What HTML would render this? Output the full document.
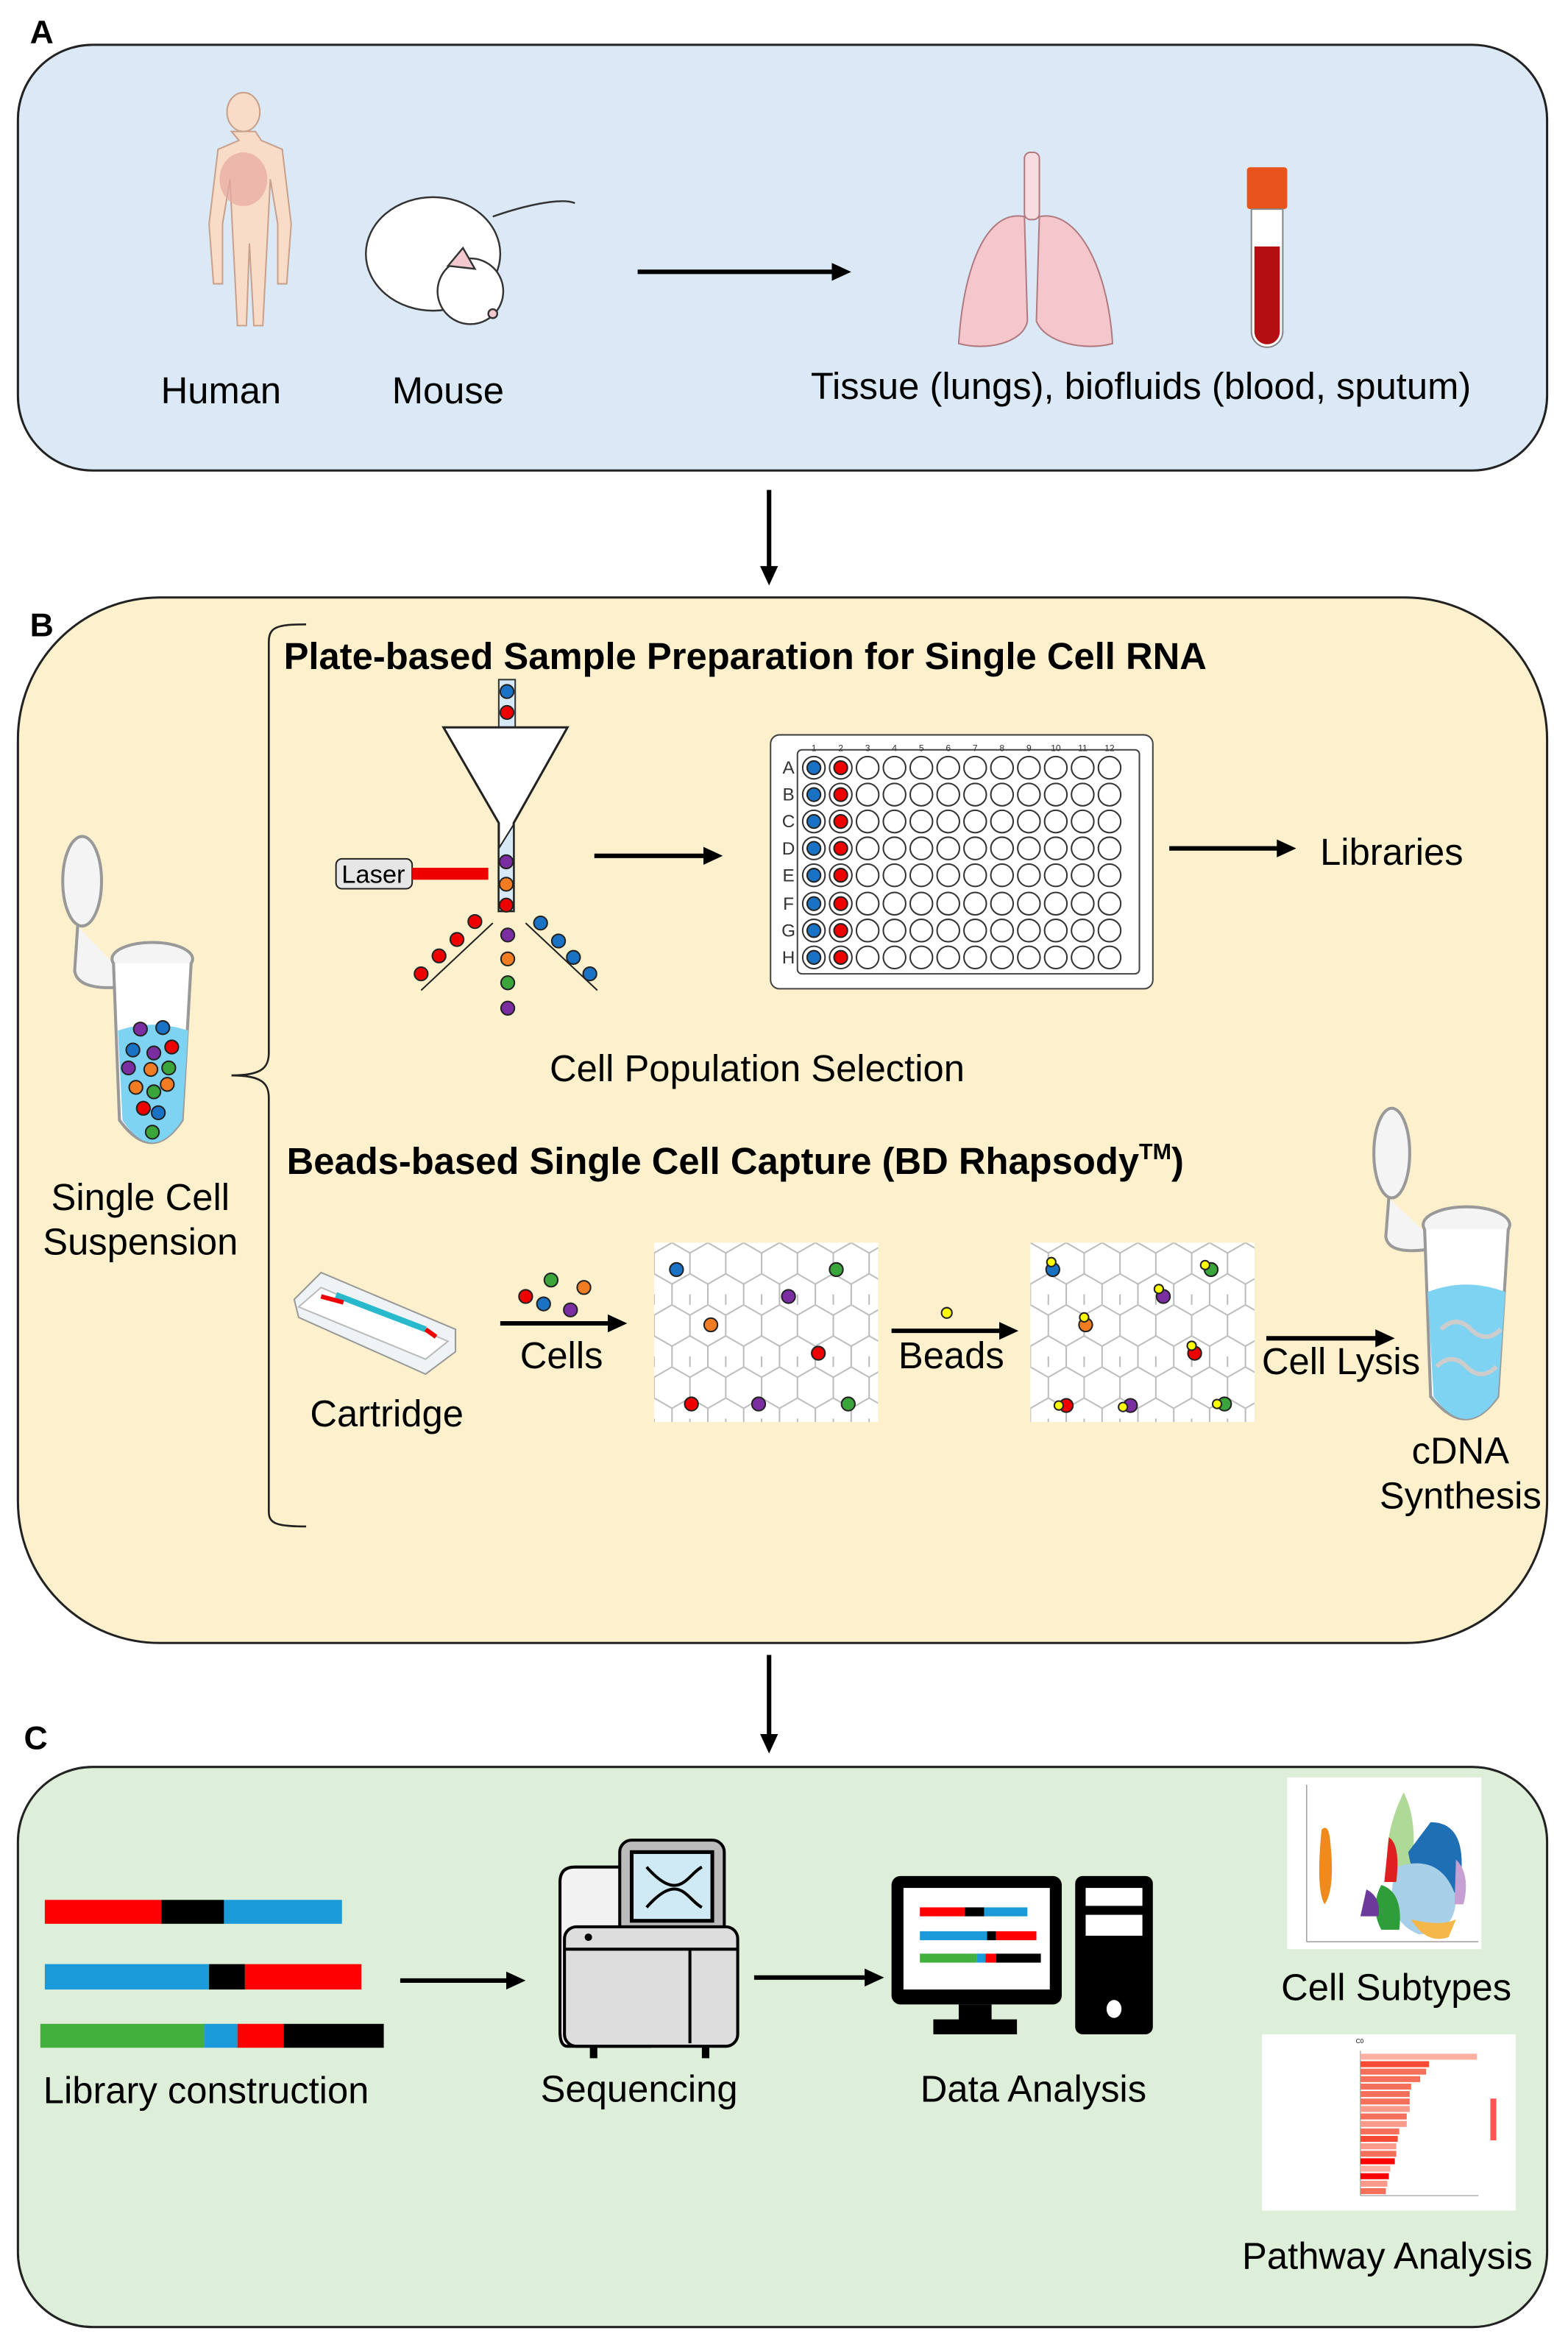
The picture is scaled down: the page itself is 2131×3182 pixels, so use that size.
<!DOCTYPE html>
<html><head><meta charset="utf-8"><style>
html,body{margin:0;padding:0;background:#fff}
svg{display:block}
text{font-family:"Liberation Sans",Arial,sans-serif}
</style></head><body>
<svg width="2131" height="3182" viewBox="0 0 1050 1568" preserveAspectRatio="none" xmlns="http://www.w3.org/2000/svg">
<defs>
<pattern id="hex" width="24" height="41.6" patternUnits="userSpaceOnUse" x="438" y="832">
<path d="M12,0 L24,6.9 L24,20.8 L12,27.7 L0,20.8 L0,6.9 Z M12,27.7 L12,41.6 M0,20.8 L0,6.9" fill="none" stroke="#bbb" stroke-width="1"/>
<path d="M0,34.6 L0,48 M24,34.6 L24,48" stroke="#bbb"/>
</pattern>
<marker id="ah" markerWidth="13" markerHeight="12" refX="9" refY="6" orient="auto" markerUnits="userSpaceOnUse"><path d="M0,0 L13,6 L0,12 Z" fill="#000"/></marker>
</defs>
<rect width="1050" height="1568" fill="#fff"/>
<!-- Panel A -->
<text x="20" y="29" font-size="22" font-weight="bold">A</text>
<rect x="12" y="30" width="1024" height="285" rx="50" fill="#dbe9f6" stroke="#222" stroke-width="1.5"/>
<g fill="#f9dcc8" stroke="#c9a08a" stroke-width="1">
<ellipse cx="163" cy="75" rx="11" ry="13"/>
<path d="M155,88 h16 l4,6 l14,6 l6,50 l-3,40 l-6,0 l0,-40 l-5,-30 l-2,40 l-3,58 l-6,0 l-3,-55 l-2,55 l-6,0 l-3,-58 l-2,-40 l-5,30 l0,40 l-6,0 l-3,-40 l6,-50 l14,-6 z"/>
</g>
<ellipse cx="163" cy="120" rx="16" ry="18" fill="#e8a8a0" opacity="0.7"/>
<g stroke="#333" stroke-width="1.2">
<path d="M330,145 C350,138 375,132 385,136" fill="none"/>
<ellipse cx="290" cy="170" rx="45" ry="38" fill="#fff"/>
<ellipse cx="315" cy="195" rx="22" ry="22" fill="#fff"/>
<path d="M300,178 l10,-12 l8,14 z" fill="#f3c9cf"/>
<circle cx="330" cy="210" r="3" fill="#f3c9cf"/>
</g>
<line x1="427" y1="182" x2="566" y2="182" stroke="#000" stroke-width="3" marker-end="url(#ah)"/>
<g fill="#f4c7cc" stroke="#b07a80" stroke-width="1">
<rect x="686" y="102" width="10" height="45" rx="4" fill="#f7dde0"/>
<path d="M686,145 C660,140 645,180 642,230 C660,235 685,230 688,215 Z"/>
<path d="M696,145 C722,140 742,180 745,230 C727,235 700,230 694,215 Z"/>
</g>
<rect x="835" y="112" width="27" height="28" rx="2" fill="#e8541c"/>
<path d="M838,140 h21 v82 a10.5,10.5 0 0 1 -21,0 z" fill="#fff" stroke="#888"/>
<path d="M840,165 h17 v57 a8.5,8.5 0 0 1 -17,0 z" fill="#b30f12"/>
<text x="148" y="270" font-size="25" text-anchor="middle">Human</text>
<text x="300" y="270" font-size="25" text-anchor="middle">Mouse</text>
<text x="764" y="267" font-size="25" text-anchor="middle">Tissue (lungs), biofluids (blood, sputum)</text>
<line x1="515" y1="328" x2="515" y2="388" stroke="#000" stroke-width="3" marker-end="url(#ah)"/>
<!-- Panel B -->
<text x="20" y="426" font-size="22" font-weight="bold">B</text>
<rect x="12" y="400" width="1024" height="700" rx="95" fill="#fdf0cc" stroke="#222" stroke-width="1.5"/>
<path d="M205,418 C185,418 180,420 180,430 L180,705 C180,715 175,720 155,720 C175,720 180,725 180,735 L180,1012 C180,1020 185,1022 205,1022" fill="none" stroke="#222" stroke-width="1.3"/>
<text x="190" y="448" font-size="25" font-weight="bold">Plate-based Sample Preparation for Single Cell RNA</text>
<rect x="334" y="455" width="11" height="32" fill="#d7e8f7" stroke="#333"/>
<circle cx="339.5" cy="463" r="4.5" fill="#1a72c4" stroke="#222"/><circle cx="339.5" cy="477" r="4.5" fill="#e00" stroke="#222"/>
<path d="M297,487 L380,487 L344,551 L344,610 L334,610 L334,551 Z" fill="#fff" stroke="#222" stroke-width="1.5"/>
<path d="M334,568 L344,552 L344,610 L334,610 Z" fill="#d7e8f7" stroke="#222"/>
<circle cx="339" cy="577" r="4.5" fill="#7b2ea1" stroke="#222"/><circle cx="339" cy="592" r="4.5" fill="#f27c22" stroke="#222"/><circle cx="339" cy="606" r="4.5" fill="#e00" stroke="#222"/>
<rect x="225" y="575" width="51" height="20" rx="4" fill="#e6e6e6" stroke="#222"/>
<text x="250" y="591" font-size="17" text-anchor="middle">Laser</text>
<rect x="276" y="581" width="51" height="8" fill="#e00"/>
<line x1="330" y1="618" x2="282" y2="663" stroke="#222"/><line x1="352" y1="618" x2="400" y2="663" stroke="#222"/>
<g stroke="#222"><circle cx="318" cy="617" r="4.5" fill="#e00"/><circle cx="306" cy="629" r="4.5" fill="#e00"/><circle cx="294" cy="640" r="4.5" fill="#e00"/><circle cx="282" cy="652" r="4.5" fill="#e00"/>
<circle cx="362" cy="618" r="4.5" fill="#1a72c4"/><circle cx="374" cy="630" r="4.5" fill="#1a72c4"/><circle cx="384" cy="641" r="4.5" fill="#1a72c4"/><circle cx="395" cy="652" r="4.5" fill="#1a72c4"/>
<circle cx="340" cy="626" r="4.5" fill="#7b2ea1"/><circle cx="340" cy="642" r="4.5" fill="#f27c22"/><circle cx="340" cy="658" r="4.5" fill="#3aa53a"/><circle cx="340" cy="675" r="4.5" fill="#7b2ea1"/></g>
<line x1="398" y1="573" x2="480" y2="573" stroke="#000" stroke-width="3" marker-end="url(#ah)"/>
<rect x="516" y="492" width="256" height="170" rx="6" fill="#fff" stroke="#444"/>
<rect x="534" y="502" width="229" height="150" rx="3" fill="#fff" stroke="#444"/>
<g text-anchor="middle" fill="#333">
<text x="545" y="503" font-size="6">1</text><text x="563" y="503" font-size="6">2</text><text x="581" y="503" font-size="6">3</text><text x="599" y="503" font-size="6">4</text><text x="617" y="503" font-size="6">5</text><text x="635" y="503" font-size="6">6</text><text x="653" y="503" font-size="6">7</text><text x="671" y="503" font-size="6">8</text><text x="689" y="503" font-size="6">9</text><text x="707" y="503" font-size="6">10</text><text x="725" y="503" font-size="6">11</text><text x="743" y="503" font-size="6">12</text>
<text x="528" y="518" font-size="12">A</text><text x="528" y="536" font-size="12">B</text><text x="528" y="554" font-size="12">C</text><text x="528" y="572" font-size="12">D</text><text x="528" y="590" font-size="12">E</text><text x="528" y="609" font-size="12">F</text><text x="528" y="627" font-size="12">G</text><text x="528" y="645" font-size="12">H</text>
</g>
<g id="wells" fill="#fff" stroke="#333" stroke-width="1">
<circle cx="545" cy="514" r="7.5"/><circle cx="545" cy="532" r="7.5"/><circle cx="545" cy="550" r="7.5"/><circle cx="545" cy="568" r="7.5"/><circle cx="545" cy="586" r="7.5"/><circle cx="545" cy="605" r="7.5"/><circle cx="545" cy="623" r="7.5"/><circle cx="545" cy="641" r="7.5"/>
</g>
<g fill="#fff" stroke="#333">
<use href="#wells" x="18"/><use href="#wells" x="36"/><use href="#wells" x="54"/><use href="#wells" x="72"/><use href="#wells" x="90"/><use href="#wells" x="108"/><use href="#wells" x="126"/><use href="#wells" x="144"/><use href="#wells" x="162"/><use href="#wells" x="180"/><use href="#wells" x="198"/>
</g>
<g stroke="#222"><g fill="#1a72c4"><circle cx="545" cy="514" r="4.5"/><circle cx="545" cy="532" r="4.5"/><circle cx="545" cy="550" r="4.5"/><circle cx="545" cy="568" r="4.5"/><circle cx="545" cy="586" r="4.5"/><circle cx="545" cy="605" r="4.5"/><circle cx="545" cy="623" r="4.5"/><circle cx="545" cy="641" r="4.5"/></g>
<g fill="#e00"><circle cx="563" cy="514" r="4.5"/><circle cx="563" cy="532" r="4.5"/><circle cx="563" cy="550" r="4.5"/><circle cx="563" cy="568" r="4.5"/><circle cx="563" cy="586" r="4.5"/><circle cx="563" cy="605" r="4.5"/><circle cx="563" cy="623" r="4.5"/><circle cx="563" cy="641" r="4.5"/></g></g>
<line x1="783" y1="568" x2="864" y2="568" stroke="#000" stroke-width="3" marker-end="url(#ah)"/>
<text x="884" y="579" font-size="25">Libraries</text>
<text x="507" y="724" font-size="25" text-anchor="middle">Cell Population Selection</text>
<text x="192" y="786" font-size="25" font-weight="bold">Beads-based Single Cell Capture (BD Rhapsody<tspan font-size="15" dy="-10">TM</tspan><tspan dy="10">)</tspan></text>
<g stroke="#999" stroke-width="2" fill="#f4f4f4">
<ellipse cx="55" cy="590" rx="13" ry="30"/>
<path d="M52,620 L50,650 Q52,665 90,660"/>
<ellipse cx="102" cy="642" rx="27" ry="11"/>
<path d="M76,645 L80,750 Q102,780 122,750 L128,645" fill="#fff"/>
</g>
<path d="M79,690 Q102,682 126,690 L122,750 Q102,780 82,750 Z" fill="#7fd3f2"/>
<g stroke="#222"><circle cx="94" cy="689" r="4.5" fill="#7b2ea1"/><circle cx="109" cy="688" r="4.5" fill="#1a72c4"/><circle cx="89" cy="703" r="4.5" fill="#1a72c4"/><circle cx="103" cy="705" r="4.5" fill="#7b2ea1"/><circle cx="115" cy="701" r="4.5" fill="#e00"/><circle cx="86" cy="715" r="4.5" fill="#7b2ea1"/><circle cx="101" cy="716" r="4.5" fill="#f27c22"/><circle cx="113" cy="715" r="4.5" fill="#3aa53a"/><circle cx="91" cy="728" r="4.5" fill="#f27c22"/><circle cx="103" cy="731" r="4.5" fill="#3aa53a"/><circle cx="112" cy="726" r="4.5" fill="#f27c22"/><circle cx="96" cy="742" r="4.5" fill="#e00"/><circle cx="106" cy="745" r="4.5" fill="#1a72c4"/><circle cx="102" cy="758" r="4.5" fill="#3aa53a"/></g>
<text x="94" y="810" font-size="25" text-anchor="middle">Single Cell</text>
<text x="94" y="840" font-size="25" text-anchor="middle">Suspension</text>
<path d="M197,870 L215,852 L305,890 L305,905 L285,920 L200,882 Z" fill="#eef3f6" stroke="#999"/>
<path d="M215,862 L300,898 L285,910 L200,875 Z" fill="#fff" stroke="#bbb"/>
<path d="M225,867 L285,890" stroke="#29b9cc" stroke-width="4"/><path d="M215,868 L230,872 M285,890 L292,895" stroke="#e00" stroke-width="3"/>
<text x="259" y="955" font-size="25" text-anchor="middle">Cartridge</text>
<g stroke="#222"><circle cx="352" cy="868" r="4.5" fill="#e00"/><circle cx="369" cy="857" r="4.5" fill="#3aa53a"/><circle cx="391" cy="862" r="4.5" fill="#f27c22"/><circle cx="364" cy="873" r="4.5" fill="#1a72c4"/><circle cx="382" cy="877" r="4.5" fill="#7b2ea1"/></g>
<line x1="335" y1="886" x2="416" y2="886" stroke="#000" stroke-width="3" marker-end="url(#ah)"/>
<text x="376" y="916" font-size="25" text-anchor="middle">Cells</text>
<rect x="438" y="832" width="150" height="120" fill="#fff"/>
<rect x="438" y="832" width="150" height="120" fill="url(#hex)"/>
<g stroke="#222"><circle cx="453" cy="850" r="4.5" fill="#1a72c4"/><circle cx="528" cy="868" r="4.5" fill="#7b2ea1"/><circle cx="560" cy="850" r="4.5" fill="#3aa53a"/><circle cx="476" cy="887" r="4.5" fill="#f27c22"/><circle cx="548" cy="906" r="4.5" fill="#e00"/><circle cx="463" cy="940" r="4.5" fill="#e00"/><circle cx="508" cy="940" r="4.5" fill="#7b2ea1"/><circle cx="568" cy="940" r="4.5" fill="#3aa53a"/></g>
<circle cx="634" cy="879" r="3.5" fill="#ff0" stroke="#222"/>
<line x1="597" y1="891" x2="678" y2="891" stroke="#000" stroke-width="3" marker-end="url(#ah)"/>
<text x="637" y="916" font-size="25" text-anchor="middle">Beads</text>
<rect x="690" y="832" width="150" height="120" fill="#fff"/>
<rect x="690" y="832" width="150" height="120" fill="url(#hex)"/>
<g stroke="#222"><circle cx="705" cy="850" r="4.5" fill="#1a72c4"/><circle cx="704" cy="845" r="3" fill="#ff0"/><circle cx="779" cy="868" r="4.5" fill="#7b2ea1"/><circle cx="776" cy="863" r="3" fill="#ff0"/><circle cx="811" cy="850" r="4.5" fill="#3aa53a"/><circle cx="807" cy="847" r="3" fill="#ff0"/><circle cx="727" cy="887" r="4.5" fill="#f27c22"/><circle cx="726" cy="882" r="3" fill="#ff0"/><circle cx="800" cy="906" r="4.5" fill="#e00"/><circle cx="798" cy="901" r="3" fill="#ff0"/><circle cx="714" cy="941" r="4.5" fill="#e00"/><circle cx="709" cy="941" r="3" fill="#ff0"/><circle cx="757" cy="941" r="4.5" fill="#7b2ea1"/><circle cx="752" cy="942" r="3" fill="#ff0"/><circle cx="820" cy="940" r="4.5" fill="#3aa53a"/><circle cx="815" cy="940" r="3" fill="#ff0"/></g>
<line x1="848" y1="896" x2="930" y2="896" stroke="#000" stroke-width="3" marker-end="url(#ah)"/>
<text x="898" y="920" font-size="25" text-anchor="middle">Cell Lysis</text>
<g stroke="#999" stroke-width="2" fill="#f4f4f4">
<ellipse cx="932" cy="772" rx="12" ry="30"/>
<path d="M930,802 L928,828 Q930,842 965,835"/>
<ellipse cx="982" cy="820" rx="29" ry="12"/>
<path d="M954,823 L958,935 Q982,965 1003,935 L1010,823" fill="#fff"/>
</g>
<path d="M956,865 Q982,855 1008,865 L1003,935 Q982,965 960,935 Z" fill="#7fd3f2"/>
<path d="M965,890 q10,-10 20,0 t20,0 M962,915 q10,-10 20,0 t20,0" stroke="#ccc" stroke-width="3" fill="none"/>
<text x="978" y="980" font-size="25" text-anchor="middle">cDNA</text>
<text x="978" y="1010" font-size="25" text-anchor="middle">Synthesis</text>
<line x1="515" y1="1108" x2="515" y2="1170" stroke="#000" stroke-width="3" marker-end="url(#ah)"/>
<!-- Panel C -->
<text x="16" y="1171" font-size="22" font-weight="bold">C</text>
<rect x="12" y="1183" width="1024" height="375" rx="50" fill="#ddeed9" stroke="#222" stroke-width="1.5"/>
<rect x="30" y="1272" width="78" height="16" fill="#f00"/><rect x="108" y="1272" width="42" height="16" fill="#000"/><rect x="150" y="1272" width="79" height="16" fill="#1a9ad8"/>
<rect x="30" y="1315" width="110" height="17" fill="#1a9ad8"/><rect x="140" y="1315" width="24" height="17" fill="#000"/><rect x="164" y="1315" width="78" height="17" fill="#f00"/>
<rect x="27" y="1355" width="110" height="16" fill="#41b03d"/><rect x="137" y="1355" width="22" height="16" fill="#1a9ad8"/><rect x="159" y="1355" width="31" height="16" fill="#f00"/><rect x="190" y="1355" width="67" height="16" fill="#000"/>
<text x="138" y="1408" font-size="25" text-anchor="middle">Library construction</text>
<line x1="268" y1="1326" x2="348" y2="1326" stroke="#000" stroke-width="3" marker-end="url(#ah)"/>
<path d="M385,1250 h50 v120 h-55 q-5,0 -5,-10 v-100 q0,-10 10,-10 z" fill="#f2f2f2" stroke="#000" stroke-width="2"/>
<rect x="415" y="1232" width="70" height="70" rx="8" fill="#bbb" stroke="#000" stroke-width="2"/>
<rect x="423" y="1240" width="54" height="46" fill="#cfeaf4" stroke="#000" stroke-width="2.5"/>
<path d="M433,1250 C455,1275 460,1255 470,1250 M433,1277 C455,1252 460,1272 470,1277" stroke="#000" stroke-width="2" fill="none"/>
<rect x="378" y="1290" width="116" height="80" rx="8" fill="#ddd" stroke="#000" stroke-width="2"/>
<line x1="378" y1="1305" x2="494" y2="1305" stroke="#000" stroke-width="2"/>
<line x1="462" y1="1305" x2="462" y2="1368" stroke="#000" stroke-width="2"/>
<circle cx="394" cy="1297" r="2.5" fill="#000"/>
<rect x="395" y="1370" width="5" height="8" fill="#000"/><rect x="470" y="1370" width="5" height="8" fill="#000"/>
<text x="428" y="1407" font-size="25" text-anchor="middle">Sequencing</text>
<line x1="505" y1="1324" x2="588" y2="1324" stroke="#000" stroke-width="3" marker-end="url(#ah)"/>
<rect x="597" y="1256" width="114" height="86" rx="6" fill="#000"/>
<rect x="605" y="1264" width="98" height="68" fill="#fff"/>
<rect x="642" y="1342" width="22" height="12" fill="#000"/><rect x="625" y="1352" width="56" height="10" fill="#000"/>
<rect x="720" y="1256" width="52" height="106" rx="5" fill="#000"/>
<rect x="727" y="1264" width="38" height="12" fill="#fff"/><rect x="727" y="1282" width="38" height="14" fill="#fff"/>
<ellipse cx="746" cy="1345" rx="5" ry="6" fill="#fff"/>
<rect x="616" y="1277" width="30" height="6" fill="#f00"/><rect x="646" y="1277" width="13" height="6" fill="#000"/><rect x="659" y="1277" width="29" height="6" fill="#1a9ad8"/>
<rect x="616" y="1293" width="45" height="6" fill="#1a9ad8"/><rect x="661" y="1293" width="6" height="6" fill="#000"/><rect x="667" y="1293" width="27" height="6" fill="#f00"/>
<rect x="616" y="1308" width="38" height="6" fill="#41b03d"/><rect x="654" y="1308" width="6" height="6" fill="#1a9ad8"/><rect x="660" y="1308" width="7" height="6" fill="#f00"/><rect x="667" y="1308" width="30" height="6" fill="#000"/>
<text x="692" y="1407" font-size="25" text-anchor="middle">Data Analysis</text>
<rect x="862" y="1190" width="130" height="115" fill="#fff"/>
<line x1="875" y1="1195" x2="875" y2="1300" stroke="#888" stroke-width="0.6"/><line x1="875" y1="1300" x2="990" y2="1300" stroke="#888" stroke-width="0.6"/>
<path d="M885,1225 q5,-5 6,10 q3,30 -4,40 q-6,-10 -2,-50 z" fill="#f08a1a"/>
<path d="M940,1200 q10,20 5,50 l-15,10 q-5,-30 10,-60 z" fill="#8dc96a" opacity="0.7"/>
<path d="M958,1220 q25,0 20,40 l-10,20 q-20,-10 -25,-40 z" fill="#1f6fb5"/>
<path d="M935,1250 q30,-10 40,20 q0,25 -25,25 q-25,-10 -15,-45 z" fill="#a8cfe8"/>
<path d="M925,1262 q15,5 12,30 l-12,0 q-8,-15 0,-30 z" fill="#2e9e3a"/>
<path d="M915,1265 q10,5 8,18 l-12,0 z" fill="#6c3a9a"/>
<path d="M945,1285 q20,5 30,0 l-5,12 q-15,5 -25,-12 z" fill="#f5b74a"/>
<path d="M930,1230 q8,5 5,30 l-8,0 z" fill="#e02020"/>
<path d="M975,1245 q10,10 5,30 l-6,0 z" fill="#c6a0d2"/>
<text x="935" y="1339" font-size="25" text-anchor="middle">Cell Subtypes</text>
<rect x="845" y="1362" width="170" height="118" fill="#fff"/>
<text x="908" y="1368" font-size="4">C0</text>
<line x1="911" y1="1373" x2="911" y2="1470" stroke="#888" stroke-width="0.5"/><line x1="911" y1="1470" x2="990" y2="1470" stroke="#888" stroke-width="0.5"/>
<g fill="#f5705a">
<rect x="911" y="1375" width="78" height="4" fill="#fbb0a2"/><rect x="911" y="1380" width="46" height="4" fill="#f64a34"/><rect x="911" y="1385" width="44" height="4"/><rect x="911" y="1390" width="40" height="4"/><rect x="911" y="1395" width="34" height="4"/><rect x="911" y="1400" width="33" height="4"/><rect x="911" y="1405" width="33" height="4"/><rect x="911" y="1410" width="33" height="4" fill="#fa9a8a"/><rect x="911" y="1415" width="31" height="4"/><rect x="911" y="1420" width="31" height="4" fill="#fa9a8a"/><rect x="911" y="1425" width="26" height="4"/><rect x="911" y="1430" width="25" height="4" fill="#f64a34"/><rect x="911" y="1435" width="24" height="4" fill="#fa9a8a"/><rect x="911" y="1440" width="24" height="4"/><rect x="911" y="1445" width="23" height="4" fill="#f00"/><rect x="911" y="1450" width="20" height="4" fill="#fbb0a2"/><rect x="911" y="1455" width="19" height="4" fill="#f00"/><rect x="911" y="1460" width="18" height="4" fill="#fa9a8a"/><rect x="911" y="1465" width="17" height="4"/>
</g>
<rect x="998" y="1405" width="4" height="28" fill="#f55"/>
<text x="929" y="1519" font-size="25" text-anchor="middle">Pathway Analysis</text>
</svg>
</body></html>
